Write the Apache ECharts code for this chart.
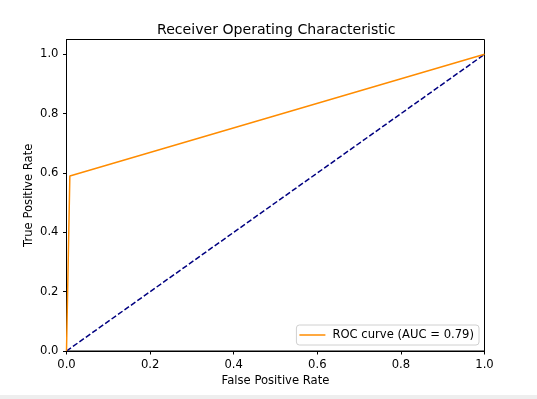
<!DOCTYPE html>
<html>
<head>
<meta charset="utf-8">
<script src="https://cdn.jsdelivr.net/npm/echarts@6/dist/echarts.min.js"></script>
<style>html,body{margin:0;padding:0;background:#fff}#c{width:537px;height:399px}</style>
</head>
<body>
<div id="c"></div>
<script>
const rocFpr = [0.0, 0.008, 1.0];
const rocTpr = [0.0, 0.59, 1.0];
const diagX = [0.0, 1.0];
const diagY = [0.0, 1.0];
const tickValues = [0, 0.2, 0.4, 0.6, 0.8, 1.0];
const rocName = 'ROC curve (AUC = 0.79)';

const chart = echarts.init(document.getElementById('c'), null, {renderer: 'canvas'});
const font = 'DejaVu Sans';
const fs = 11.6;
const axisCommon = {
  type: 'value',
  axisLine: {show: true, lineStyle: {color: '#000', width: 1}},
  axisTick: {show: true, inside: false, length: 3.5, lineStyle: {color: '#000', width: 1}, customValues: tickValues},
  axisLabel: {color: '#000', fontFamily: font, fontSize: fs, formatter: v => v.toFixed(1), customValues: tickValues},
  splitLine: {show: false},
  nameLocation: 'middle',
  nameMoveOverlap: false,
  nameTextStyle: {color: '#000', fontFamily: font, fontSize: fs}
};
chart.setOption({
  animation: false,
  backgroundColor: '#fff',
  title: {
    text: 'Receiver Operating Characteristic',
    left: 152, top: 18,
    textStyle: {fontFamily: font, fontSize: 14.1, fontWeight: 'normal', color: '#000'}
  },
  grid: {left: 66.5, right: 52.5, top: 39.5, bottom: 48, show: true, borderColor: '#000', borderWidth: 1, backgroundColor: 'transparent'},
  xAxis: Object.assign({}, axisCommon, {min: 0, max: 1, interval: 0.2, name: 'False Positive Rate', nameGap: 24,
    axisLabel: Object.assign({}, axisCommon.axisLabel, {margin: 8})}),
  yAxis: Object.assign({}, axisCommon, {min: 0, max: 1.05, name: 'True Positive Rate', nameGap: 32,
    axisLabel: Object.assign({}, axisCommon.axisLabel, {margin: 8})}),
  legend: {
    data: [{name: rocName, icon: 'rect'}],
    right: 58, bottom: 54,
    orient: 'vertical',
    backgroundColor: '#fff',
    borderColor: '#d0d0d0', borderWidth: 1, borderRadius: 3,
    padding: [4, 5, 4, 3],
    itemWidth: 26, itemHeight: 1.5,
    textStyle: {fontFamily: font, fontSize: fs, color: '#000', padding: [0, 0, 0, 2]}
  },
  series: [
    {
      name: rocName, type: 'line', symbol: 'none', z: 3,
      data: rocFpr.map((x, i) => [x, rocTpr[i]]),
      lineStyle: {color: '#ff8c00', width: 1.5}, itemStyle: {color: '#ff8c00'}
    },
    {
      name: 'diag', type: 'line', symbol: 'none', z: 2,
      data: diagX.map((x, i) => [x, diagY[i]]),
      lineStyle: {color: '#000080', width: 1.5, type: [5.5, 2.4]}
    }
  ],
  graphic: [
    {type: 'rect', shape: {x: 0, y: 395, width: 537, height: 4}, style: {fill: '#eeeeee'}}
  ]
});
</script>
</body>
</html>
